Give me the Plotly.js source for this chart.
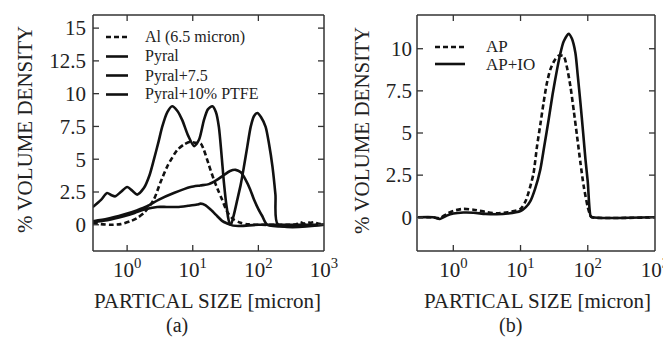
<!DOCTYPE html>
<html>
<head>
<meta charset="utf-8">
<script src="https://cdn.plot.ly/plotly-3.0.1.min.js"></script>
<style>html,body{margin:0;padding:0;background:#fff;}#chart{width:663px;height:341px;}</style>
</head>
<body>
<div id="chart"></div>
<script>
// ---- Panel (a) data ----
const alX = [0.3, 0.4, 0.556, 0.8, 1.12, 1.4, 1.8, 2.55, 3.2, 4.08, 5.8, 7.5, 9.25, 11, 13.2, 14.8, 17.5, 21, 24.5, 28, 32, 35.6, 42, 53.7, 70, 100, 300, 380, 430, 500, 560, 620, 700, 800, 1000];
const alY = [0.15, 0.05, 0.0, 0.05, 0.27, 0.5, 0.9, 1.92, 3.2, 4.44, 5.7, 6.15, 6.33, 6.25, 6.2, 5.7, 4.6, 3.43, 2.6, 1.92, 1.2, 0.78, 0.4, 0.15, 0.03, 0, 0, 0.05, 0.2, 0.1, 0.2, 0.15, 0.2, 0.1, 0];

const pyralX = [0.3, 0.4, 0.495, 0.58, 0.66, 0.8, 1.0, 1.2, 1.42, 1.8, 2.2, 2.55, 3.0, 3.42, 4.1, 4.86, 5.8, 6.92, 8.5, 10.5, 12.5, 14.8, 17, 19.9, 22.5, 25, 27.5, 29.9, 33, 37.8, 100, 1000];
const pyralY = [1.35, 1.9, 2.42, 2.25, 2.17, 2.5, 2.88, 2.6, 2.3, 2.8, 3.8, 4.95, 6.3, 7.47, 8.6, 9.04, 8.7, 7.98, 6.8, 6.0, 6.5, 7.98, 8.8, 9.04, 8.6, 7.47, 5.3, 3.18, 1.3, 0, 0, 0];

const pyral75X = [0.3, 0.5, 0.89, 1.4, 2.02, 3.0, 5.14, 9.25, 13, 17.6, 23, 29.9, 37, 45, 54, 64, 75, 85.7, 100, 115, 137, 1000];
const pyral75Y = [0.27, 0.45, 0.78, 1.1, 1.41, 1.9, 2.42, 2.88, 3.0, 3.1, 3.4, 3.8, 4.1, 4.19, 4.0, 3.43, 2.7, 1.92, 1.2, 0.65, 0, 0];

const ptfeX = [0.3, 0.5, 0.89, 1.3, 1.8, 2.87, 4, 5.8, 8.5, 11.7, 13.2, 15.5, 18.7, 23.7, 28, 33.6, 37.8, 42, 47.8, 54, 60.3, 68, 76.3, 86, 96.6, 110, 129, 145, 164, 182, 199, 1000];
const ptfeY = [0.2, 0.35, 0.65, 0.9, 1.16, 1.36, 1.36, 1.36, 1.45, 1.54, 1.61, 1.5, 1.16, 0.65, 0.3, 0.1, 0, 0.7, 1.92, 3.1, 4.44, 6.0, 7.47, 8.3, 8.53, 8.2, 7.47, 6.2, 4.44, 2.3, 0, 0];

// ---- Panel (b) data ----
const apX = [0.3, 0.5, 0.63, 0.8, 1.0, 1.41, 2.0, 3.0, 4.4, 6.5, 10, 12, 14, 15.6, 17.6, 19.7, 22, 24.5, 27.7, 32, 36.9, 43.8, 49, 55.2, 62, 69.3, 78, 87, 100, 110, 116, 1000];
const apY = [0, 0, -0.05, 0.2, 0.38, 0.5, 0.45, 0.32, 0.24, 0.3, 0.5, 1.0, 1.85, 2.6, 4.22, 5.5, 6.79, 7.9, 8.76, 9.3, 9.59, 9.55, 8.9, 7.77, 6.3, 4.81, 3.2, 1.85, 0.6, 0.08, 0, 0];

const apioX = [0.3, 0.5, 0.63, 0.8, 1.0, 1.41, 2.0, 3.0, 4.4, 6.5, 10, 12, 14, 16.5, 19.7, 22.5, 26.2, 30, 34.9, 39, 43.8, 52, 58, 65.5, 71, 77.8, 85, 92.4, 100, 110, 116, 1000];
const apioY = [0, 0, -0.1, 0.1, 0.22, 0.28, 0.27, 0.2, 0.18, 0.22, 0.37, 0.6, 0.96, 1.7, 2.84, 4.2, 5.8, 7.3, 8.76, 9.7, 10.43, 10.89, 10.6, 9.75, 8.4, 6.79, 5.1, 3.43, 2.1, 0.08, 0, 0];

// ---- tick labels ----
const xTickVals = [1, 10, 100, 1000];
const xTickText = ['10<sup>0</sup>', '10<sup>1</sup>', '10<sup>2</sup>', '10<sup>3</sup>'];
const yTickValsA = [0, 2.5, 5, 7.5, 10, 12.5, 15];
const yTickValsB = [0, 2.5, 5, 7.5, 10];
const yTickTextA = ['0', '2.5', '5', '7.5', '10', '12.5', '15'];
const yTickTextB = ['0', '2.5', '5', '7.5', '10'];

const W = 663, H = 341;
const px = v => v / W;
const py = v => 1 - v / H;
const FONT = 'Liberation Serif, Times New Roman, serif';
const INK = '#111';
const FRAME = '#333333';

function line(x, y, xa, ya, name, dash) {
  return {x: x, y: y, xaxis: xa, yaxis: ya, name: name, type: 'scatter', mode: 'lines',
    line: {color: INK, width: 2.6, dash: dash || 'solid', shape: 'spline', smoothing: 0.7},
    showlegend: false, hoverinfo: 'skip'};
}

const traces = [
  line(alX, alY, 'x', 'y', 'Al (6.5 micron)', '5px,3px'),
  line(pyralX, pyralY, 'x', 'y', 'Pyral'),
  line(pyral75X, pyral75Y, 'x', 'y', 'Pyral+7.5'),
  line(ptfeX, ptfeY, 'x', 'y', 'Pyral+10% PTFE'),
  line(apX, apY, 'x2', 'y2', 'AP', '5px,3px'),
  line(apioX, apioY, 'x2', 'y2', 'AP+IO')
];

function axis(extra) {
  return Object.assign({
    showline: false, ticks: '', showgrid: false, zeroline: false, ticklabeloverflow: 'allow',
    tickfont: {family: FONT, size: 21, color: '#222222'}
  }, extra);
}

const yDom = [py(251), py(15)];
const panels = [
  {xa: 'x', ya: 'y', xdom: [px(93), px(324)], xr: [-0.52, 3], yr: [-2, 16], yv: yTickValsA, yt: yTickTextA},
  {xa: 'x2', ya: 'y2', xdom: [px(417), px(655)], xr: [-0.54, 3], yr: [-2, 12], yv: yTickValsB, yt: yTickTextB}
];

const layout = {
  width: W, height: H,
  margin: {l: 0, r: 0, t: 0, b: 0},
  paper_bgcolor: '#ffffff', plot_bgcolor: '#ffffff',
  showlegend: false,
  font: {family: FONT, color: '#222222'},
  shapes: [],
  annotations: []
};

function seg(x0, y0, x1, y1, w) {
  layout.shapes.push({type: 'line', xref: 'paper', yref: 'paper', x0: x0, y0: y0, x1: x1, y1: y1,
    line: {color: FRAME, width: w}, layer: 'above'});
}

panels.forEach((p, i) => {
  const sx = i === 0 ? '' : '2';
  layout['xaxis' + sx] = axis({type: 'log', domain: p.xdom, range: p.xr, anchor: p.ya,
    tickvals: xTickVals, ticktext: xTickText, ticklabelstandoff: 4});
  layout['yaxis' + sx] = axis({domain: yDom, range: p.yr, anchor: p.xa,
    tickvals: p.yv, ticktext: p.yt, ticklabelstandoff: i === 0 ? 6 : 4});
  const [xa0, xa1] = p.xdom, [ya0, ya1] = yDom;
  const tlx = 6 / W, tly = 6 / H;
  // frame
  seg(xa0, ya0, xa1, ya0, 1.5);
  seg(xa0, ya1, xa1, ya1, 1.5);
  seg(xa0, ya0, xa0, ya1, 1.5);
  seg(xa1, ya0, xa1, ya1, 1.5);
  // x ticks, bottom and top (inside)
  xTickVals.forEach(v => {
    const f = (Math.log10(v) - p.xr[0]) / (p.xr[1] - p.xr[0]);
    if (f < 0.001 || f > 0.999) return;
    const xx = xa0 + f * (xa1 - xa0);
    seg(xx, ya0, xx, ya0 + tly, 1.3);
    seg(xx, ya1, xx, ya1 - tly, 1.3);
  });
  // y ticks, left and right (inside)
  p.yv.forEach(v => {
    const f = (v - p.yr[0]) / (p.yr[1] - p.yr[0]);
    const yy = ya0 + f * (ya1 - ya0);
    seg(xa0, yy, xa0 + tlx, yy, 1.3);
    seg(xa1, yy, xa1 - tlx, yy, 1.3);
  });
});

function ann(text, x, y, size, opts) {
  layout.annotations.push(Object.assign({text: text, x: px(x), y: py(y), xref: 'paper', yref: 'paper',
    showarrow: false, font: {family: FONT, size: size, color: '#222222'}, xanchor: 'center', yanchor: 'middle'}, opts || {}));
}

// axis titles and panel labels
ann('PARTICAL SIZE [micron]', 207, 301, 21);
ann('PARTICAL SIZE [micron]', 537, 301, 21);
ann('% VOLUME DENSITY', 25, 130, 21, {textangle: -90});
ann('% VOLUME DENSITY', 362, 130, 21, {textangle: -90});
ann('(a)', 177, 325, 20);
ann('(b)', 510, 325, 20);

// legends
const legA = [['Al (6.5 micron)', '5px,3px', 37], ['Pyral', 'solid', 56.5], ['Pyral+7.5', 'solid', 75.5], ['Pyral+10% PTFE', 'solid', 94.5]];
legA.forEach(([t, d, yy]) => {
  layout.shapes.push({type: 'line', xref: 'paper', yref: 'paper', x0: px(106), x1: px(128), y0: py(yy), y1: py(yy),
    line: {color: INK, width: 2.6, dash: d}});
  ann(t, 143, yy, 16, {xanchor: 'left'});
});
const legB = [['AP', '5px,3px', 47], ['AP+IO', 'solid', 64]];
legB.forEach(([t, d, yy]) => {
  layout.shapes.push({type: 'line', xref: 'paper', yref: 'paper', x0: px(435), x1: px(465), y0: py(yy), y1: py(yy),
    line: {color: INK, width: 2.6, dash: d}});
  ann(t, 484, yy, 17, {xanchor: 'left'});
});

Plotly.newPlot('chart', traces, layout, {displayModeBar: false});
</script>
</body>
</html>
